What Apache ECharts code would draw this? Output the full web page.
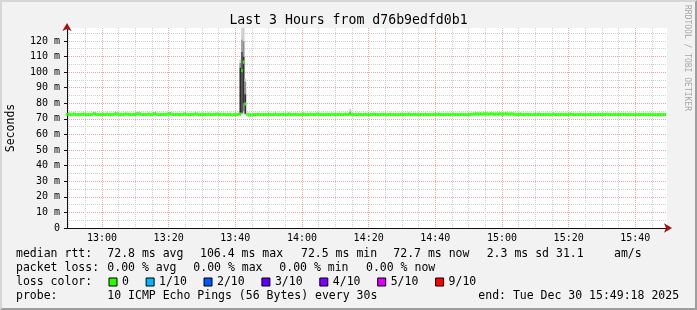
<!DOCTYPE html>
<html><head><meta charset="utf-8">
<script src="https://cdn.jsdelivr.net/npm/echarts@6/dist/echarts.min.js"></script>
<style>
html,body{margin:0;padding:0;background:#f2f2f2;}
#wrap{position:relative;width:697px;height:310px;overflow:hidden;}
#chart{position:absolute;left:0;top:0;width:697px;height:310px;}
#frame{position:absolute;left:0;top:0;width:697px;height:310px;box-sizing:border-box;border-style:solid;border-width:2px;border-color:#d6d6d6 #9e9e9e #9e9e9e #d6d6d6;pointer-events:none;}
</style></head><body>
<div id="wrap"><div id="chart"></div><div id="frame"></div></div>
<script>
// ---------- data ----------
const startTime = [12, 49, 30];   // first sample (h, m, s)
const stepSeconds = 30;           // probe step
const medianRtt = [
72.9,73.0,72.8,72.8,73.1,72.9,72.8,72.7,72.8,72.9,73.0,72.8,72.7,72.8,72.8,72.9,73.3,73.2,72.8,72.8,
72.7,72.8,72.9,72.8,73.0,72.8,72.7,72.8,72.9,73.3,73.2,72.8,72.7,72.8,72.8,73.0,73.0,72.9,72.8,72.7,
72.8,72.9,73.3,73.3,73.1,72.8,72.8,72.7,72.9,73.0,72.8,72.8,73.2,73.3,72.9,72.8,72.7,72.8,72.9,72.8,
73.0,73.2,73.3,73.0,72.8,72.8,72.9,72.8,72.7,72.8,73.0,73.1,72.8,72.7,72.8,72.9,72.8,73.2,73.0,72.8,
72.8,72.7,72.9,72.8,72.8,73.0,72.8,72.7,72.8,72.9,73.1,72.8,72.8,72.7,72.9,72.8,72.8,72.8,72.7,72.6,
72.7,72.8,72.8,72.9,73.0,101.0,106.4,79.6,72.9,72.6,72.5,72.6,72.7,72.8,72.8,72.9,72.7,72.8,72.8,72.7,
72.8,72.9,72.8,72.7,72.8,73.0,72.8,72.7,72.8,72.8,72.9,72.7,72.8,73.1,72.8,72.7,72.8,72.9,72.8,72.7,
72.8,72.8,73.0,72.8,72.7,72.8,72.9,72.8,72.7,72.8,73.1,72.9,72.8,72.7,72.8,72.8,72.9,72.7,72.8,73.0,
72.8,72.7,72.8,72.9,72.8,72.7,72.8,73.0,72.8,72.9,73.0,72.8,72.7,72.8,72.8,72.9,72.8,72.7,72.8,72.9,
72.8,72.8,72.7,72.8,73.0,72.9,72.8,72.7,72.8,72.9,72.8,72.8,72.7,72.8,72.9,72.8,72.8,72.7,72.8,72.8,
72.9,72.8,72.7,72.8,72.8,73.0,72.8,72.7,72.8,72.9,72.8,72.8,72.7,72.8,72.8,72.9,72.8,72.7,72.8,72.8,
72.9,72.8,72.8,73.0,72.8,72.7,72.8,72.8,72.9,72.8,72.7,72.8,72.9,72.8,72.8,72.7,72.8,72.9,72.8,72.8,
72.7,72.8,72.9,73.0,73.0,73.2,73.2,73.1,73.2,73.0,73.2,73.1,73.2,73.0,73.2,73.2,73.1,73.0,73.2,73.1,
73.2,73.0,73.1,73.2,73.2,73.0,73.1,73.2,73.0,72.9,72.8,72.8,73.0,72.8,72.7,72.8,72.9,72.8,72.8,72.7,
72.8,72.9,72.8,73.0,72.8,72.7,72.8,72.8,72.9,72.8,72.7,72.8,73.0,72.8,72.8,72.7,72.8,72.9,72.8,72.8,
72.7,72.8,73.0,72.9,72.8,72.8,72.7,72.8,72.9,72.8,72.8,72.7,72.8,72.8,72.9,72.8,72.7,72.8,72.8,72.9,
72.8,72.7,72.8,72.8,73.0,72.8,72.8,72.7,72.8,72.9,72.8,72.8,72.7,72.8,72.9,72.8,72.7,72.8,72.8,72.8,
72.8,72.7,72.8,72.8,72.7,72.8,72.8,72.8,72.7,72.8,72.8,72.7,72.8,72.8,72.7,72.8,72.8,72.7,72.7,72.7,
null
];
// smoke (ping spread) at the steps where it is visible
const smokeIndex   = [104,   105,   106,   107,   170];
const smokeOuterLo = [72.6,  72.8,  72.8,  72.8,  72.8];
const smokeMidLo   = [72.8,  73.5,  75.0,  73.0,  72.9];
const smokeInnerLo = [73.0,  74.0,  80.0,  73.5,  73.0];
const smokeInnerHi = [103.0, 113.0, 110.0, 86.0,  73.5];
const smokeMidHi   = [106.0, 121.0, 120.0, 94.0,  74.5];
const smokeOuterHi = [108.0, 140.0, 135.0, 96.0,  76.5];

const xTickLabels = ['13:00','13:20','13:40','14:00','14:20','14:40','15:00','15:20','15:40'];
const yTickValues = [0,10,20,30,40,50,60,70,80,90,100,110,120];
const yMax = 128.3;
const lossLegend = ['0','1/10','2/10','3/10','4/10','5/10','9/10'];
const statsRows = [
  ['median rtt:', '72.8 ms avg', '106.4 ms max', '72.5 ms min', '72.7 ms now', '2.3 ms sd', '31.1', 'am/s'],
  ['packet loss:', '0.00 % avg', '0.00 % max', '0.00 % min', '0.00 % now'],
  ['loss color:'],
  ['probe:', '10 ICMP Echo Pings (56 Bytes) every 30s', 'end: Tue Dec 30 15:49:18 2025']
];
const titleText = 'Last 3 Hours from d76b9edfd0b1';
const yAxisName = 'Seconds';
const watermark = 'RRDTOOL / TOBI OETIKER';

// ---------- styles / layout ----------
const lossColors = ['#26ff00','#00b8ff','#0059ff','#5e00ff','#7e00ff','#dd00ff','#ff0000'];
const MONO = '"DejaVu Sans Mono", monospace';
const statsX = [
  [16, 107.3, 200, 301, 393.3, 486.7, 556, 614],
  [16, 107.3, 193.3, 279.3, 366],
  [16],
  [16, 107.3, 478.3]
];
const statsY = [254.5, 268.5, 282, 296];
const medianHalf = 1.05;

// ---------- build ----------
const pad = n => (n < 10 ? '0' : '') + n;
const t0 = startTime[0]*3600 + startTime[1]*60 + startTime[2];
const categories = medianRtt.map((_, i) => {
  const s = t0 + i*stepSeconds;
  return pad(Math.floor(s/3600)) + ':' + pad(Math.floor(s%3600/60)) + ':' + pad(s%60);
});
const isMinor = v => v.endsWith(':00') && (+v.slice(3,5)) % 5 === 0;
const isMajor = v => v.endsWith(':00') && xTickLabels.includes(v.slice(0,5));

const N = medianRtt.length;
const empty = () => new Array(N).fill(null);
const sBase = empty(), sL1 = empty(), sL2 = empty(), sL3 = empty(), sL4 = empty(), sL5 = empty();
smokeIndex.forEach((idx, k) => {
  sBase[idx] = smokeOuterLo[k];
  sL1[idx] = smokeMidLo[k] - smokeOuterLo[k];
  sL2[idx] = smokeInnerLo[k] - smokeMidLo[k];
  sL3[idx] = smokeInnerHi[k] - smokeInnerLo[k];
  sL4[idx] = smokeMidHi[k] - smokeInnerHi[k];
  sL5[idx] = smokeOuterHi[k] - smokeMidHi[k];
});
const mBase = medianRtt.map(v => v == null ? null : v - medianHalf);
const mBand = medianRtt.map(v => v == null ? null : 2*medianHalf);

const smokeColors = ['transparent', '#cccccc', '#8c8c8c', '#2a2a2a', '#8c8c8c', '#cccccc'];
const smokeData = [sBase, sL1, sL2, sL3, sL4, sL5];
const series = smokeData.map((d, k) => ({
  type: 'bar', stack: 'smoke', data: d, silent: true,
  barCategoryGap: '0%', barGap: '-100%',
  itemStyle: k === 0 ? {color: 'transparent'} : {color: smokeColors[k], borderColor: smokeColors[k], borderWidth: 0.4}
}));
series.push({type: 'bar', stack: 'median', data: mBase, silent: true, barCategoryGap: '0%', barGap: '-100%', itemStyle: {color: 'transparent'}});
series.push({type: 'bar', stack: 'median', name: lossLegend[0], data: mBand, silent: true, barCategoryGap: '0%', barGap: '-100%',
  itemStyle: {color: lossColors[0], borderColor: lossColors[0], borderWidth: 0.5}});
for (let k = 1; k < lossLegend.length; k++) {
  series.push({type: 'line', name: lossLegend[k], data: [], itemStyle: {color: lossColors[k]}, lineStyle: {color: lossColors[k]}});
}

const graphic = [];
statsRows.forEach((row, r) => row.forEach((txt, c) => {
  graphic.push({type: 'text', x: statsX[r][c], y: statsY[r], silent: true,
    style: {text: txt, font: '11.5px ' + MONO, fill: '#000', verticalAlign: 'middle'}});
}));
graphic.push({type: 'text', x: 687, y: 5, rotation: -Math.PI/2, silent: true,
  style: {text: watermark, font: '8px ' + MONO, fill: '#a8a8a8', verticalAlign: 'middle', align: 'left'}});

const gridMinor = {color: '#cfcfcf', type: [1, 1], width: 1};
const gridMajor = {color: '#eca4a4', type: [1, 1], width: 1};

const chart = echarts.init(document.getElementById('chart'), null, {renderer: 'canvas'});
chart.setOption({
  animation: false,
  backgroundColor: '#f2f2f2',
  title: {text: titleText, left: 'center', top: 14, padding: 0, textStyle: {fontFamily: MONO, fontSize: 13.2, fontWeight: 'normal', color: '#000'}},
  grid: {left: 67, top: 28, width: 600, height: 200, show: true, backgroundColor: '#ffffff', borderWidth: 0, containLabel: false, outerBoundsMode: 'none'},
  legend: {data: lossLegend, left: 108.5, top: 276, padding: 0, icon: 'rect', itemWidth: 8, itemHeight: 8, itemGap: 16.7, selectedMode: false,
    itemStyle: {borderColor: '#000', borderWidth: 1}, textStyle: {fontFamily: MONO, fontSize: 11.5, color: '#000'}},
  xAxis: [
    {type: 'category', data: categories, boundaryGap: false,
     axisLine: {show: true, lineStyle: {color: '#101010'}}, axisTick: {show: false}, axisLabel: {show: false},
     splitLine: {show: true, interval: (i, v) => isMinor(v), lineStyle: gridMinor}},
    {type: 'category', data: categories, boundaryGap: false, position: 'bottom',
     axisLine: {show: true, symbol: ['none', 'arrow'], symbolSize: [7, 8], symbolOffset: [0, 5], lineStyle: {color: '#a01010', width: 0}},
     axisTick: {show: false},
     axisLabel: {interval: (i, v) => isMajor(v), formatter: v => v.slice(0, 5), margin: 5, fontFamily: MONO, fontSize: 10, color: '#000'},
     splitLine: {show: true, interval: (i, v) => isMajor(v), lineStyle: gridMajor}}
  ],
  yAxis: [
    {type: 'value', min: 0, max: yMax, interval: 5,
     name: yAxisName, nameLocation: 'middle', nameGap: 50, nameTextStyle: {fontFamily: MONO, fontSize: 11.5, color: '#000'},
     axisLine: {show: true, lineStyle: {color: '#101010'}}, axisTick: {show: false}, axisLabel: {show: false},
     splitLine: {show: true, showMinLine: false, showMaxLine: false, lineStyle: gridMinor}},
    {type: 'value', min: 0, max: yMax, interval: 10, position: 'left',
     axisLine: {show: true, symbol: ['none', 'arrow'], symbolSize: [7, 8], symbolOffset: [0, 5], lineStyle: {color: '#a01010', width: 0}},
     axisTick: {show: true, length: 3, customValues: yTickValues, lineStyle: {color: '#101010'}},
     axisLabel: {customValues: yTickValues, margin: 7, fontFamily: MONO, fontSize: 10, color: '#000',
       formatter: v => v === 0 ? '0' : (v + ' m')},
     splitLine: {show: true, showMinLine: false, showMaxLine: false, lineStyle: gridMajor}}
  ],
  graphic: graphic,
  series: series
});
</script>
</body></html>
